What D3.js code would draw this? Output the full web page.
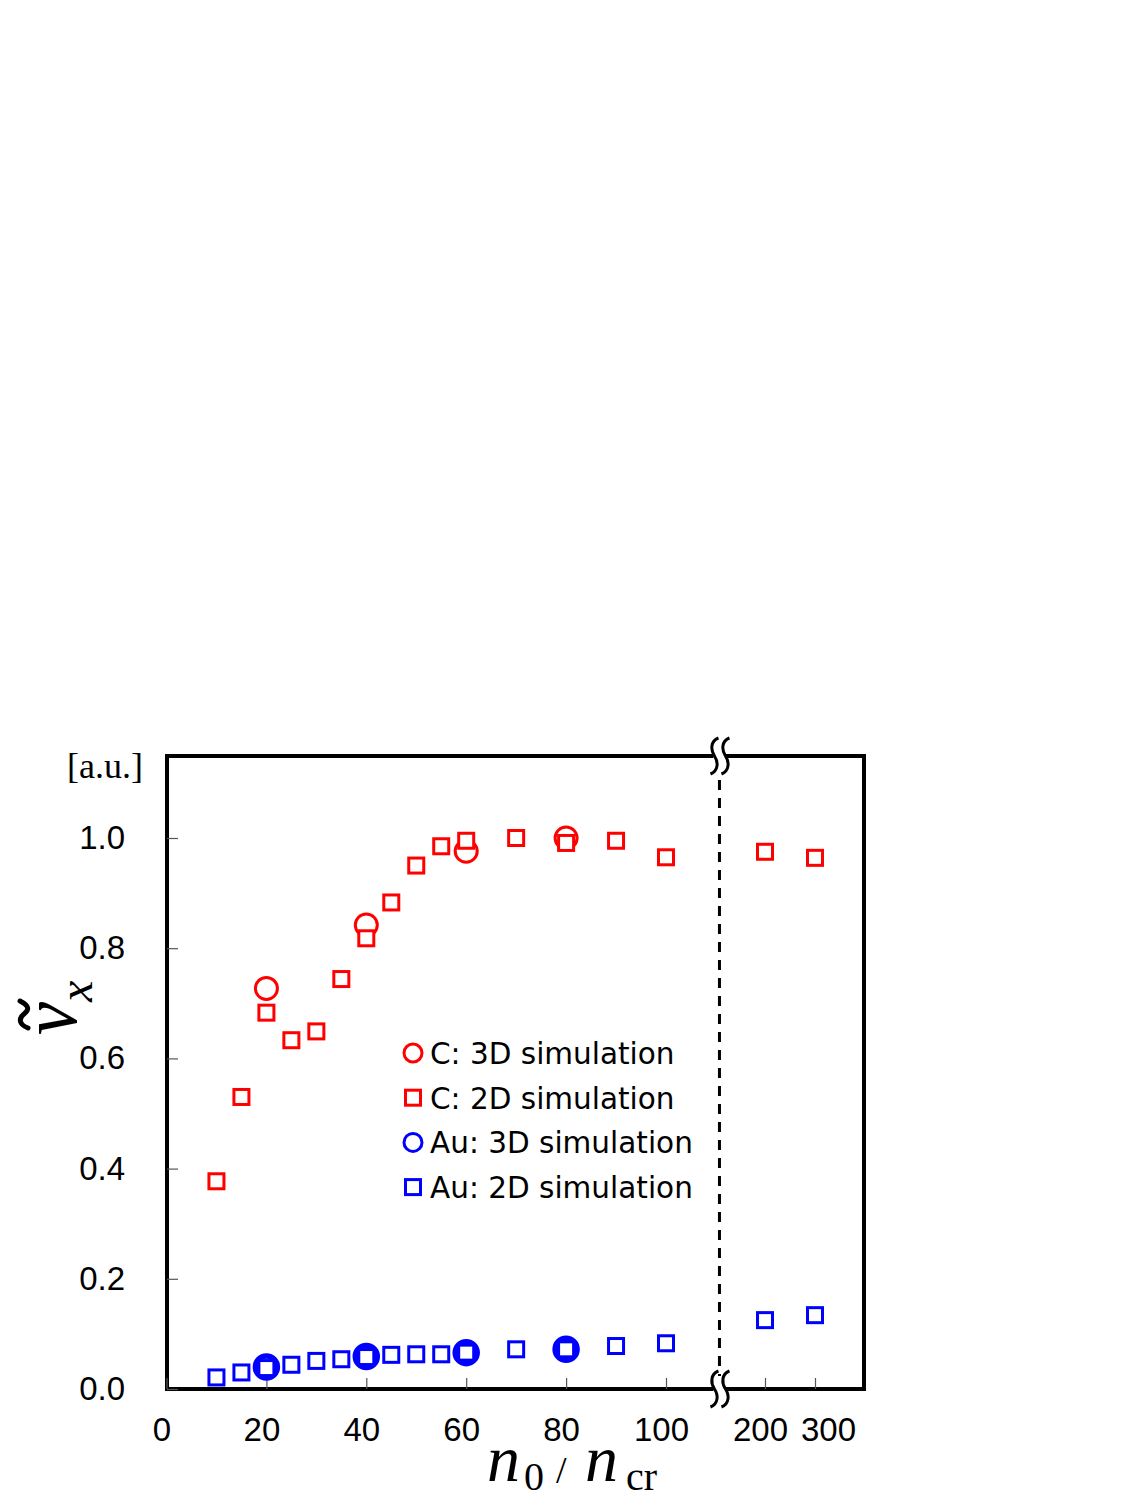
<!DOCTYPE html>
<html><head><meta charset="utf-8">
<script src="https://cdn.jsdelivr.net/npm/d3@7"></script>
<style>html,body{margin:0;padding:0;background:#fff;}</style>
</head><body>
<script>
// ---- data ----
const c2dX = [10,15,20,25,30,35,40,45,50,55,60,70,80,90,100,200,300];
const c2dY = [0.377,0.530,0.683,0.633,0.649,0.744,0.818,0.883,0.950,0.985,0.995,1.000,0.991,0.995,0.965,0.975,0.964];
const c3dX = [20,40,60,80];
const c3dY = [0.727,0.842,0.976,1.000];
const au2dX = [10,15,20,25,30,35,40,45,50,55,60,70,80,90,100,200,300];
const au2dY = [0.021,0.030,0.038,0.044,0.051,0.054,0.058,0.062,0.063,0.063,0.066,0.072,0.072,0.078,0.083,0.125,0.134];
const au3dX = [20,40,60,80];
const au3dY = [0.040,0.059,0.066,0.072];
const xTicks = [0,20,40,60,80,100,200,300];
const yTicks = [0,0.2,0.4,0.6,0.8,1.0];
const legendLabels = ["C: 3D simulation","C: 2D simulation","Au: 3D simulation","Au: 2D simulation"];
const breakValue = 154;

const W=1125,H=1500;
const L=167,R=864,T=756,B=1389;
const RED="#ff0000", BLUE="#0000ff";

const svg=d3.select("body").append("svg").attr("width",W).attr("height",H).style("background","#fff");

// broken x axis: piecewise linear scale
const x=d3.scaleLinear().domain([0,100,200,300]).range([166.5,666,765,815]);
const y=d3.scaleLinear().domain([0,1]).range([B,838]);

// frame
svg.append("rect").attr("x",L).attr("y",T).attr("width",R-L).attr("height",B-T)
  .attr("fill","none").attr("stroke","#000").attr("stroke-width",4);

// axes
const xAxis=svg.append("g").attr("transform",`translate(0,${B})`)
  .call(d3.axisBottom(x).tickValues(xTicks).tickFormat(d3.format("d")).tickSize(-11).tickPadding(29));
xAxis.select(".domain").remove();
xAxis.selectAll(".tick line").attr("stroke","#555").attr("stroke-width",1.2);
xAxis.selectAll(".tick text").attr("font-family","'Liberation Sans',Arial,sans-serif")
  .attr("font-size",33).attr("fill","#000").attr("dx",d=>d===300?13:-5);

const yAxis=svg.append("g").attr("transform",`translate(${L},0)`)
  .call(d3.axisLeft(y).tickValues(yTicks).tickFormat(d3.format(".1f")).tickSize(-11).tickPadding(42));
yAxis.select(".domain").remove();
yAxis.selectAll(".tick line").attr("stroke","#555").attr("stroke-width",1.2);
yAxis.selectAll(".tick text").attr("font-family","'Liberation Sans',Arial,sans-serif")
  .attr("font-size",33).attr("fill","#000");

// break: dashed line
const bx=x(breakValue);
svg.append("line").attr("x1",bx).attr("x2",bx).attr("y1",780).attr("y2",1376)
  .attr("stroke","#000").attr("stroke-width",3).attr("stroke-dasharray","10,8");

// break marks
function sPath(cx,cy){
  return `M${cx+4},${cy-18} C${cx-4},${cy-15} ${cx-4},${cy-6} ${cx},${cy} C${cx+4},${cy+6} ${cx+4},${cy+15} ${cx-4},${cy+18}`;
}
[T,B].forEach(yy=>{
  svg.append("rect").attr("x",bx-6).attr("y",yy-4).attr("width",12).attr("height",8).attr("fill","#fff");
  svg.append("path").attr("d",sPath(bx-5,yy)).attr("fill","none").attr("stroke","#000").attr("stroke-width",3);
  svg.append("path").attr("d",sPath(bx+6,yy)).attr("fill","none").attr("stroke","#000").attr("stroke-width",3);
});

// markers
const sq=15;
function circles(xs,ys,color,sw){
  svg.append("g").selectAll("circle").data(xs).join("circle")
    .attr("cx",(d)=>x(d)).attr("cy",(d,i)=>y(ys[i])).attr("r",11)
    .attr("fill","#fff").attr("stroke",color).attr("stroke-width",sw);
}
function squares(xs,ys,color){
  svg.append("g").selectAll("rect").data(xs).join("rect")
    .attr("x",d=>x(d)-sq/2).attr("y",(d,i)=>y(ys[i])-sq/2).attr("width",sq).attr("height",sq)
    .attr("fill","#fff").attr("stroke",color).attr("stroke-width",3);
}
circles(c3dX,c3dY,RED,3);
circles(au3dX,au3dY,BLUE,5.5);
squares(c2dX,c2dY,RED);
squares(au2dX,au2dY,BLUE);

// legend
const leg=svg.append("g");
const legTypes=[["circle",RED],["square",RED],["circle",BLUE],["square",BLUE]];
legendLabels.forEach((lab,i)=>{
  const cy=1053+i*44.7;
  const [t,c]=legTypes[i];
  if(t==="circle") leg.append("circle").attr("cx",413).attr("cy",cy).attr("r",9).attr("fill","#fff").attr("stroke",c).attr("stroke-width",3);
  else leg.append("rect").attr("x",413-sq/2).attr("y",cy-sq/2).attr("width",sq).attr("height",sq).attr("fill","#fff").attr("stroke",c).attr("stroke-width",3);
  leg.append("text").attr("x",430).attr("y",cy+11).attr("font-family","'DejaVu Sans',sans-serif")
    .attr("font-size",29.5).attr("fill","#000").text(lab);
});

// unit label
svg.append("text").attr("x",67).attr("y",778).attr("font-family","'Liberation Serif','Times New Roman',serif")
  .attr("font-size",36).attr("fill","#000").text("[a.u.]");

// y axis title: v tilde sub x (rotated)
const yt=svg.append("g").attr("transform","translate(76,1035) rotate(-90)");
yt.append("text").attr("x",0).attr("y",0).attr("font-family","'Liberation Serif','Times New Roman',serif")
  .attr("font-style","italic").attr("font-size",80).attr("textLength",33).attr("lengthAdjust","spacingAndGlyphs").text("v");
yt.append("path").attr("d","M7,-48 C11,-58 17,-57 21,-52 S29,-46 34,-56").attr("fill","none").attr("stroke","#000").attr("stroke-width",5).attr("stroke-linecap","round");
yt.append("text").attr("x",33).attr("y",16).attr("font-family","'Liberation Serif','Times New Roman',serif")
  .attr("font-style","italic").attr("font-size",48).text("x");

// x axis title
const serif="'Liberation Serif','Times New Roman',serif";
svg.append("text").attr("x",487).attr("y",1481).attr("font-family",serif).attr("font-style","italic").attr("font-size",66).text("n");
svg.append("text").attr("x",524).attr("y",1490).attr("font-family",serif).attr("font-size",40).text("0");
svg.append("text").attr("x",556).attr("y",1483).attr("font-family",serif).attr("font-size",38).text("/");
svg.append("text").attr("x",585).attr("y",1481).attr("font-family",serif).attr("font-style","italic").attr("font-size",66).text("n");
svg.append("text").attr("x",626).attr("y",1490).attr("font-family",serif).attr("font-size",40).text("cr");
</script>
</body></html>
